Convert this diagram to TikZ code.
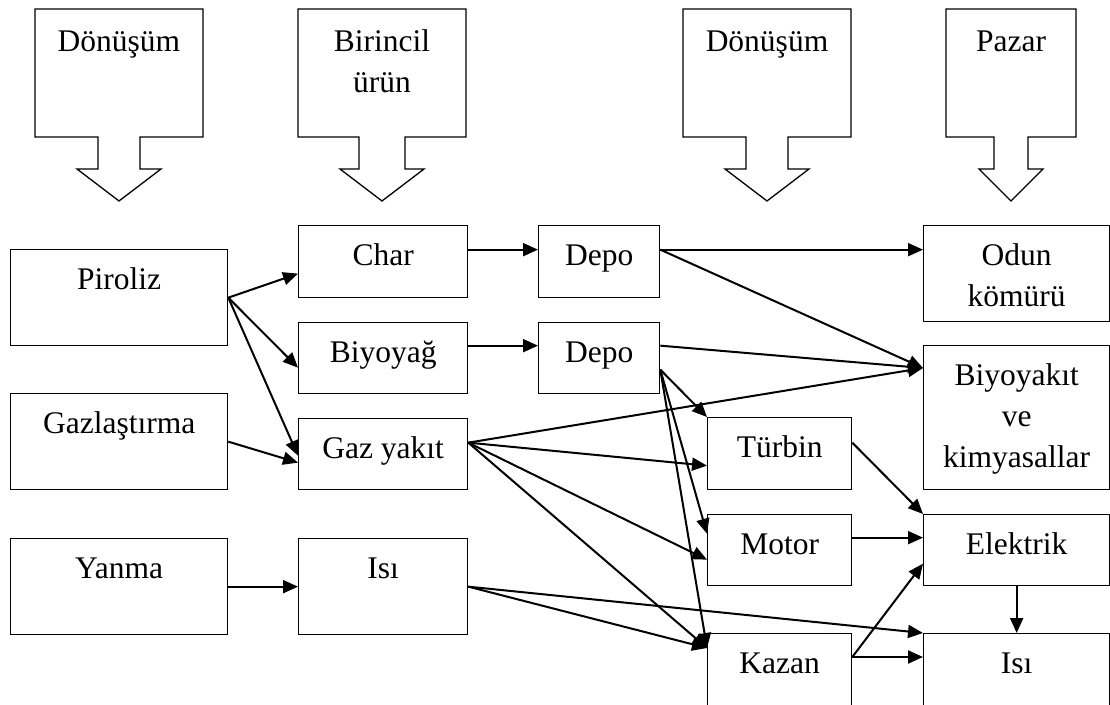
\documentclass[tikz,border=0pt]{standalone}
\usepackage{fontspec}
\setmainfont{Liberation Serif}
\usetikzlibrary{arrows.meta}
\newcommand{\lns}[1]{\begin{tabular}[t]{@{}c@{}}#1\end{tabular}}
\tikzset{
	box/.style 2 args={draw, line width=1.3pt, inner sep=0pt, anchor=north west,
		minimum width=#1pt, minimum height=#2pt, text height=40pt, text depth=#2pt-40pt},
	arr/.style={-{Triangle[length=15pt,width=13pt]}, line width=2pt},
}
\begin{document}
\begin{tikzpicture}[x=1pt, y=-1pt, line join=miter, font=\fontsize{31.5}{41}\selectfont]
	\useasboundingbox (0,0) rectangle (1110,704);
	\clip (0,0) rectangle (1110,704);
	% ok oklar: merkez/kutu/gövde/uç
	\foreach \cx/\bw/\sw/\hw/\lab [count=\i] in {119/84/21/42/Dönüşüm, 382/84/23/42/{Birincil\\ürün}, 767/84/21/42/Dönüşüm, 1011/65/17/32/Pazar}{
		\draw[line width=1.3pt] (\cx-\bw,9) -- (\cx+\bw,9) -- (\cx+\bw,137) -- (\cx+\sw,137) -- (\cx+\sw,169) -- (\cx+\hw,169) -- (\cx,201)
			-- (\cx-\hw,169) -- (\cx-\sw,169) -- (\cx-\sw,137) -- (\cx-\bw,137) -- cycle;
		\node[anchor=north, inner sep=0pt, text height=42pt] (hd\i) at (\cx,9) {\lns{\lab}};
	}
	% kutular
	\node[box={217}{96}] (piroliz) at (10,249) {\lns{Piroliz}};
	\node[box={217}{96}] (gazlas) at (10,393) {\lns{Gazlaştırma}};
	\node[box={217}{96}] (yanma) at (10,538) {\lns{Yanma}};
	\node[box={169}{72}] (char) at (298,225) {\lns{Char}};
	\node[box={169}{71}] (biyoyag) at (298,322) {\lns{Biyoyağ}};
	\node[box={169}{71}] (gazyakit) at (298,418) {\lns{Gaz yakıt}};
	\node[box={169}{96}] (isi) at (298,538) {\lns{Isı}};
	\node[box={121}{72}] (depoa) at (538,225) {\lns{Depo}};
	\node[box={121}{71}] (depob) at (538,322) {\lns{Depo}};
	\node[box={144}{72}] (turbin) at (707,417) {\lns{Türbin}};
	\node[box={144}{71}] (motor) at (707,514) {\lns{Motor}};
	\node[box={144}{96}] (kazan) at (707,633) {\lns{Kazan}};
	\node[box={186}{96}] (odun) at (923,225) {\lns{Odun\\kömürü}};
	\node[box={186}{144}] (biyoyakit) at (923,345) {\lns{Biyoyakıt\\ve\\kimyasallar}};
	\node[box={186}{71}] (elektrik) at (923,514) {\lns{Elektrik}};
	\node[box={186}{96}] (isib) at (923,633) {\lns{Isı}};
	% giriş noktaları
	\coordinate (inbio) at ([yshift=-23pt]biyoyakit.north west);
	\coordinate (inkazan) at ([yshift=-15pt]kazan.north west);
	% bağlantılar
	\draw[arr] (piroliz.east) -- ([yshift=-12pt]char.west);
	\draw[arr] (piroliz.east) -- ([yshift=-9.5pt]biyoyag.west);
	\draw[arr] (piroliz.east) -- ([yshift=-1.5pt]gazyakit.west);
	\draw[arr] (gazlas.east) -- ([yshift=-8.5pt]gazyakit.west);
	\draw[arr] (yanma.east) -- (isi.west);
	\draw[arr] ([yshift=12pt]char.east) -- ([yshift=12pt]depoa.west);
	\draw[arr] ([yshift=12.5pt]biyoyag.east) -- ([yshift=12.5pt]depob.west);
	\draw[arr] ([yshift=12pt]depoa.east) -- ([yshift=24pt]odun.west);
	\draw[arr] ([yshift=12pt]depoa.east) -- (inbio);
	\draw[arr] ([yshift=12.5pt]depob.east) -- (inbio);
	\draw[arr] ([yshift=-11.5pt]depob.east) -- (turbin.north west);
	\draw[arr] ([yshift=-11.5pt]depob.east) -- ([yshift=16.5pt]motor.west);
	\draw[arr] ([yshift=-11.5pt]depob.east) -- (inkazan);
	\draw[arr] ([yshift=11.5pt]gazyakit.east) -- (inbio);
	\draw[arr] ([yshift=11.5pt]gazyakit.east) -- ([yshift=-12pt]turbin.west);
	\draw[arr] ([yshift=11.5pt]gazyakit.east) -- ([yshift=-9.5pt]motor.west);
	\draw[arr] ([yshift=11.5pt]gazyakit.east) -- (inkazan);
	\draw[arr] (isi.east) -- (inkazan);
	\draw[arr] (isi.east) -- (isib.north west);
	\draw[arr] ([yshift=11pt]turbin.east) -- (elektrik.north west);
	\draw[arr] ([yshift=12.5pt]motor.east) -- ([yshift=12.5pt]elektrik.west);
	\draw[arr] ([yshift=-24pt]kazan.north east) -- ([yshift=-13.5pt]elektrik.west);
	\draw[arr] ([yshift=-24pt]kazan.north east) -- ([yshift=-24pt]isib.north west);
	\draw[arr] (elektrik.south) -- (isib.north);
\end{tikzpicture}
\end{document}
